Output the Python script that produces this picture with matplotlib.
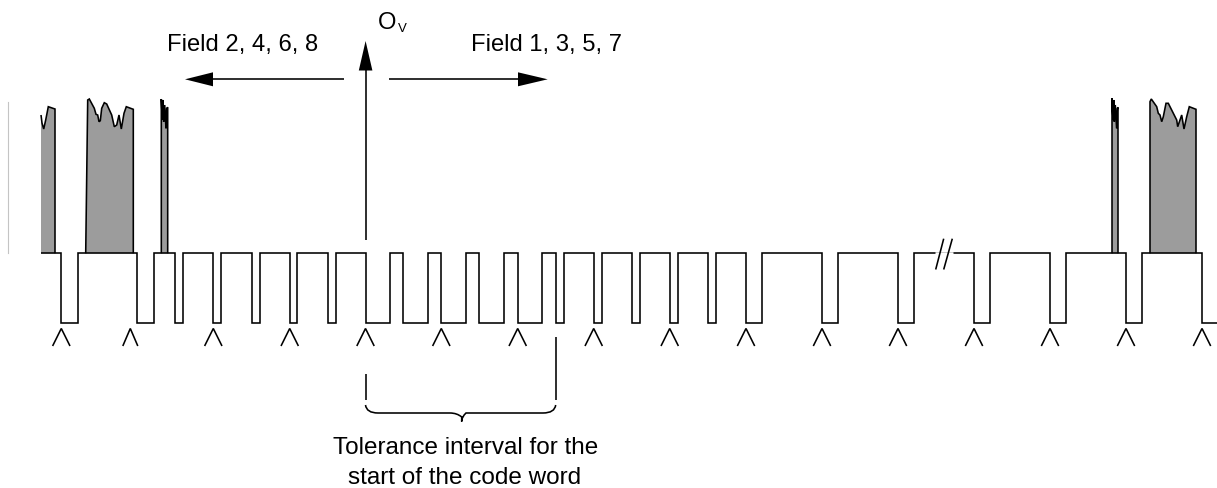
import matplotlib
matplotlib.use("Agg")
import matplotlib.pyplot as plt
from matplotlib.path import Path
from matplotlib.patches import PathPatch, Polygon

plt.rcParams['font.family'] = ['Liberation Sans', 'DejaVu Sans']

# Waveform: x where the signal falls / rises
pulse_fall = [61.3, 137.3, 175.3, 213.3, 251.7, 289.7, 327.7, 365.5, 403.3, 441.3, 479.3,
              517.7, 556, 593.7, 631.7, 669.7, 708, 746, 822, 898, 974, 1050, 1126, 1202]
pulse_rise = [77.7, 153.7, 183.3, 221.3, 259.7, 297.3, 335.7, 390, 427.7, 466, 504,
              542, 563.7, 601.7, 639.7, 678, 716, 762, 837.7, 914, 990, 1066, 1142, 1217]
wave_start = 40.5
level_high = 253.3
level_low = 323.3

# Carets beneath the waveform
caret_x = [61.3, 130.3, 213.3, 289.7, 365.5, 441.3, 517.7, 593.7, 669.7, 746,
           822, 898, 974, 1050, 1126, 1202]

# Grey video bursts: outline of the top edge
burst_1 = [(41, 115), (42, 123), (43.7, 129), (45.7, 120), (48.3, 106.7), (55, 109)]
burst_2 = [(85.7, 253.3), (87.7, 100), (89.3, 99), (94.3, 108.3), (96, 114.3), (97.7, 115),
           (99, 121.7), (100.3, 120.7), (101.7, 108.3), (104.3, 102.7), (106.7, 104),
           (111.7, 115), (114.3, 126.7), (116.7, 125), (119, 115), (121.3, 129), (124, 113.3),
           (126.3, 106.7), (133.3, 109.3)]
burst_3 = [(161.3, 99), (162.3, 120), (163, 100), (163.7, 121.7), (164.7, 105), (165.7, 123.3),
           (166, 128.3), (166.7, 108.3), (167.7, 107.3)]
burst_4 = [(1112, 98.3), (1113, 120), (1113.7, 100), (1114.3, 121.7), (1115.3, 105),
           (1116.3, 123.3), (1116.7, 128.3), (1117.3, 108.3), (1118, 107.3)]
burst_5 = [(1150, 101.7), (1151.3, 99), (1156.7, 106.7), (1158.3, 113.3), (1160, 115),
           (1161.7, 121.7), (1163.3, 116.7), (1166, 103.3), (1168.3, 103.3), (1176.7, 120),
           (1177.7, 126.7), (1181.7, 115), (1184, 129), (1186.7, 116.7), (1189.3, 106.7),
           (1196, 109.3)]
bursts = [burst_1, burst_2, burst_3, burst_4, burst_5]

W, H = 1217, 488
fig = plt.figure(figsize=(W / 100, H / 100), dpi=100)
ax = fig.add_axes([0, 0, 1, 1])
ax.set_xlim(0, W)
ax.set_ylim(H, 0)
ax.axis('off')

LW = 1.15
GREY = '#9c9c9c'
kw = dict(color='black', lw=LW, solid_capstyle='butt', solid_joinstyle='miter')

# light stray rule at the far left
ax.plot([8.3, 8.3], [102, 253], color='#c4c4c4', lw=0.8)

for b in bursts:
    top = list(b)
    poly = [(top[0][0], level_high)] + top + [(top[-1][0], level_high)]
    ax.add_patch(Polygon(poly, closed=True, facecolor=GREY, edgecolor='none', zorder=1))
    if b is burst_1:
        xs, ys = zip(*(top + [(top[-1][0], level_high)]))
    else:
        xs, ys = zip(*poly)
    ax.plot(xs, ys, zorder=2, **kw)

# waveform
wx, wy = [wave_start], [level_high]
for f, r in zip(pulse_fall, pulse_rise):
    wx += [f, f, r]
    wy += [level_high, level_low, level_low]
    if r < W:
        wx.append(r)
        wy.append(level_high)
ax.plot(wx, wy, zorder=3, **kw)

# carets
for i, x in enumerate(caret_x):
    hw = 7.5 if i == 1 else 8.7
    ax.plot([x - hw, x, x + hw], [346, 328.5, 346], **kw)

# break mark
ax.plot([935, 953], [253.3, 253.3], color='white', lw=1.8, zorder=4, solid_capstyle='butt')
ax.plot([935.7, 943.7], [269.5, 238.7], zorder=5, **kw)
ax.plot([943.7, 952.3], [269.5, 238.7], zorder=5, **kw)

# arrows
def arrow(shaft, head):
    ax.plot(*zip(*shaft), **kw)
    ax.add_patch(Polygon(head, closed=True, facecolor='black', edgecolor='none'))

arrow([(365.6, 240), (365.6, 69)], [(365.6, 41), (358.8, 70.5), (372.4, 70.5)])
arrow([(344, 79.3), (212, 79.3)], [(185, 79.3), (213, 72.3), (213, 86.3)])
arrow([(389, 79.3), (519, 79.3)], [(547.7, 79.3), (518, 72.3), (518, 86.3)])

# tolerance interval
ax.plot([365.5, 365.5], [374, 399.5], **kw)
ax.plot([555.7, 555.7], [336.7, 400], **kw)
brace = Path(
    [(365.5, 405), (366.5, 413), (378, 413), (378, 413),
     (450, 413), (450, 413), (457, 413), (461.7, 417), (461.7, 421.5),
     (461.7, 417), (466, 413), (473, 413), (473, 413), (543, 413), (543, 413),
     (554.7, 413), (555.7, 405)],
    [Path.MOVETO, Path.CURVE3, Path.CURVE3, Path.LINETO,
     Path.LINETO, Path.LINETO, Path.CURVE3, Path.CURVE3, Path.LINETO,
     Path.CURVE3, Path.CURVE3, Path.LINETO, Path.LINETO, Path.LINETO, Path.LINETO,
     Path.CURVE3, Path.CURVE3])
ax.add_patch(PathPatch(brace, facecolor='none', edgecolor='black', lw=LW))

# text
FS = 17.1
ax.text(167, 51, 'Field 2, 4, 6, 8', fontsize=FS, ha='left', va='baseline')
ax.text(471, 51, 'Field 1, 3, 5, 7', fontsize=FS, ha='left', va='baseline')
ax.text(378, 29, 'O', fontsize=FS, ha='left', va='baseline')
ax.text(398, 32.5, 'V', fontsize=9.5, ha='left', va='baseline')
ax.text(465.5, 454, 'Tolerance interval for the', fontsize=17.5, ha='center', va='baseline')
ax.text(464.5, 484, 'start of the code word', fontsize=17.5, ha='center', va='baseline')

fig.savefig('out.png', dpi=100, facecolor='white')
